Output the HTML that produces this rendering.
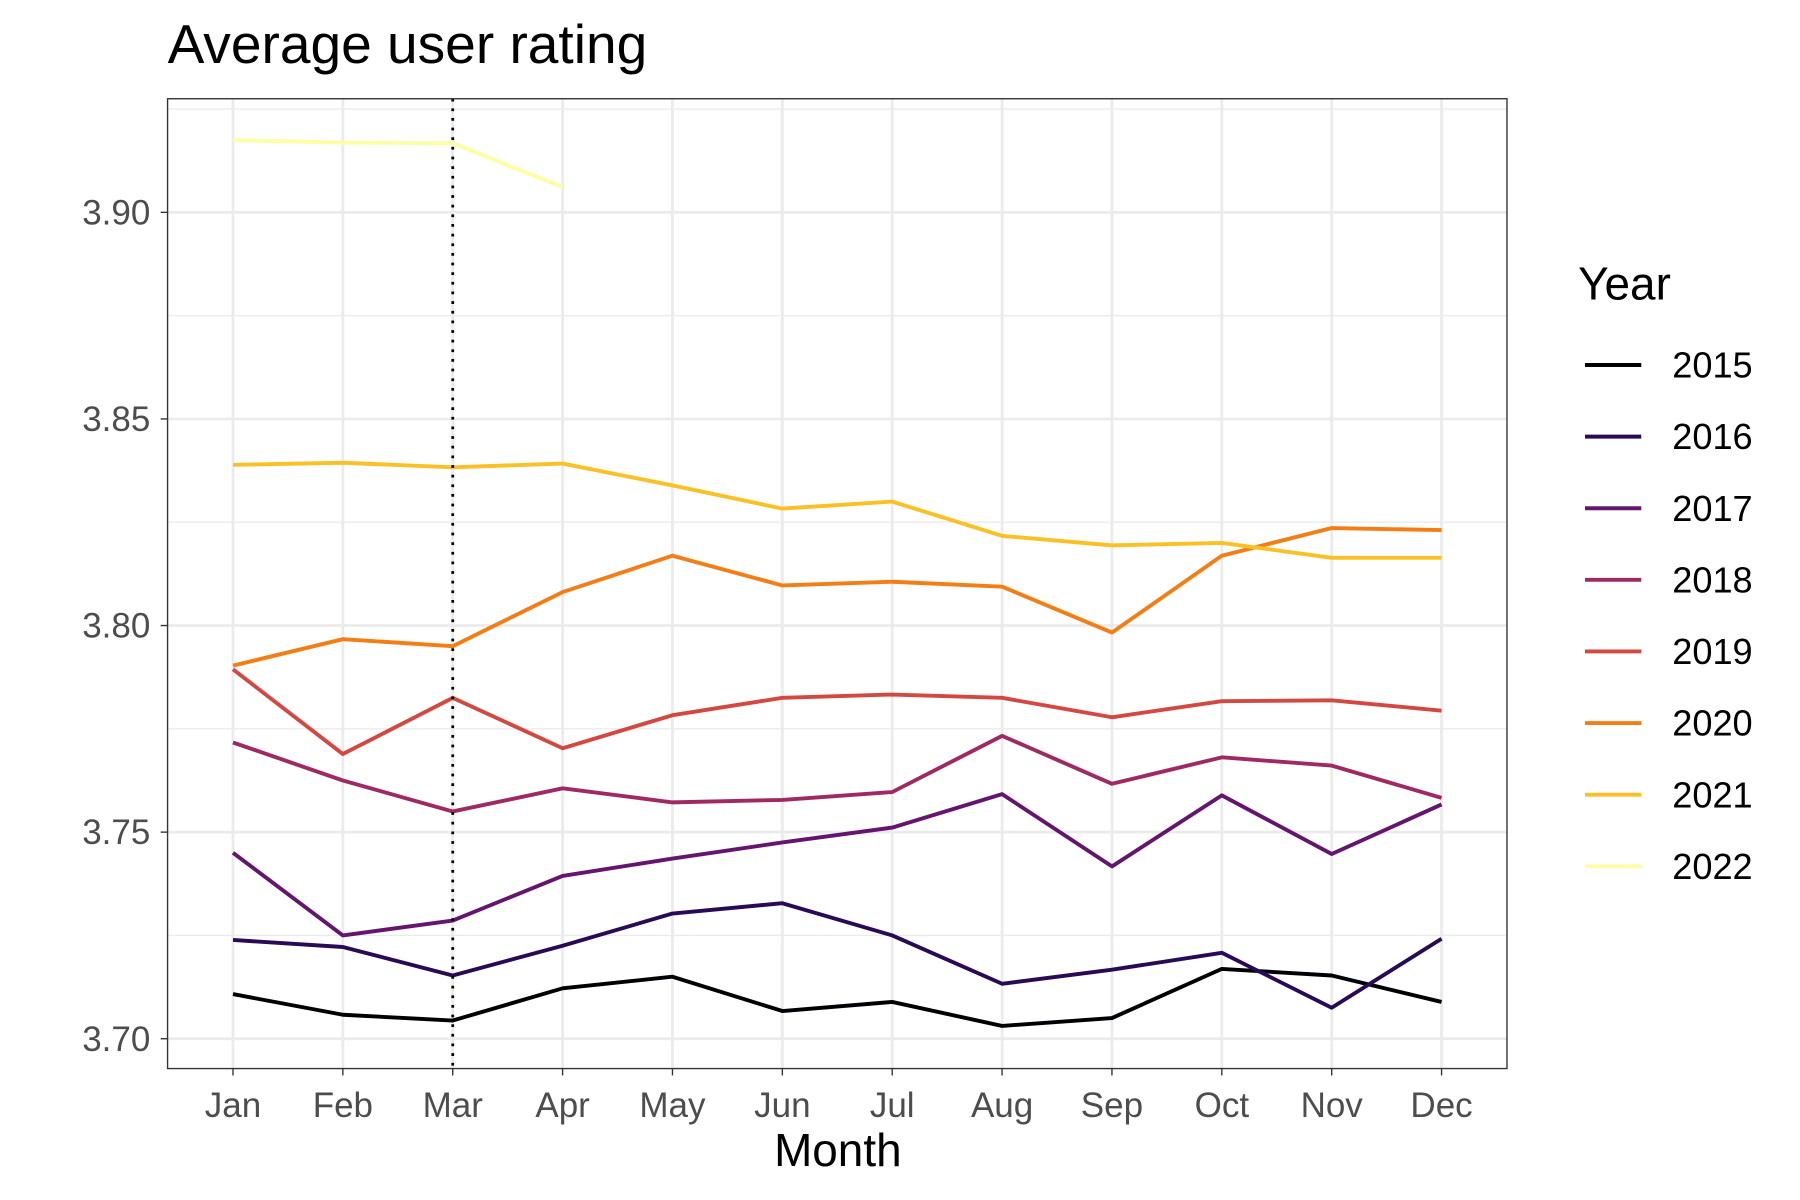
<!DOCTYPE html>
<html><head><meta charset="utf-8"><style>html,body{margin:0;padding:0;background:#fff}svg{display:block}</style></head>
<body>
<svg id="chart" width="1800" height="1200" viewBox="0 0 1568.3 1045.5" xmlns="http://www.w3.org/2000/svg" font-family="Liberation Sans, Arial, sans-serif">
<rect width="1569" height="1046" fill="#fff"/>
<text x="146" y="55" font-size="48" fill="#000">Average user rating</text>
<g id="grid"></g>
<g id="lines"></g>
<rect x="146" y="86" width="1167" height="845" fill="none" stroke="#333" stroke-width="1.2"/>
<g id="axes"></g>
<text x="730" y="1016" font-size="40" text-anchor="middle" fill="#000">Month</text>
<g id="legend"></g>
</svg>
<script>
const months = ["Jan","Feb","Mar","Apr","May","Jun","Jul","Aug","Sep","Oct","Nov","Dec"];
const years = ["2015","2016","2017","2018","2019","2020","2021","2022"];
const colors = ["#000004","#280B54","#65156E","#9F2A63","#D44842","#F57D15","#FAC127","#FCFFA4"];
const yTicks = [3.70,3.75,3.80,3.85,3.90];
const yMinor = [3.725,3.775,3.825,3.875,3.925];
const s2015 = [3.7108,3.7058,3.7044,3.7122,3.715,3.7067,3.7089,3.7031,3.705,3.7169,3.7153,3.7089];
const s2016 = [3.7239,3.7222,3.7153,3.7225,3.7303,3.7328,3.725,3.7133,3.7167,3.7208,3.7075,3.7242];
const s2017 = [3.745,3.725,3.7286,3.7394,3.7436,3.7475,3.7511,3.7592,3.7417,3.7589,3.7447,3.7567];
const s2018 = [3.7717,3.7625,3.755,3.7606,3.7572,3.7578,3.7597,3.7733,3.7617,3.7681,3.7661,3.7583];
const s2019 = [3.7894,3.7689,3.7825,3.7703,3.7783,3.7825,3.7833,3.7825,3.7778,3.7817,3.7819,3.7794];
const s2020 = [3.7903,3.7967,3.795,3.8081,3.8169,3.8097,3.8106,3.8094,3.7983,3.8169,3.8236,3.8231];
const s2021 = [3.8389,3.8394,3.8383,3.8392,3.8339,3.8283,3.83,3.8217,3.8194,3.82,3.8164,3.8164];
const s2022 = [3.9175,3.9169,3.9167,3.9061];
const series = [s2015,s2016,s2017,s2018,s2019,s2020,s2021,s2022];
const markerMonth = "Mar";

const NS="http://www.w3.org/2000/svg";
const x = i => 203 + i*(1256-203)/11;
const y = v => 905 - (v-3.70)*3600;
function mk(tag, attrs, parent){const e=document.createElementNS(NS,tag);for(const k in attrs)e.setAttribute(k,attrs[k]);parent.appendChild(e);return e;}
const grid=document.getElementById('grid'), lines=document.getElementById('lines'), axes=document.getElementById('axes'), legend=document.getElementById('legend');

yMinor.forEach(v=>{const yy=y(v); if(yy<86||yy>931) return;
 const l=mk('line',{x1:146,x2:1313,y1:yy,y2:yy,stroke:'#ebebeb','stroke-width':1.2},grid);
 
 });
yTicks.forEach(v=>{const yy=y(v);
 const l=mk('line',{x1:146,x2:1313,y1:yy,y2:yy,stroke:'#ebebeb','stroke-width':2.4},grid);
 
 
 const t=mk('line',{x1:140,x2:146,y1:yy,y2:yy,stroke:'#333','stroke-width':1.2},axes);
 
 
 const tx=mk('text',{x:131,y:yy+10.5,'font-size':30.5,'text-anchor':'end',fill:'#4d4d4d'},axes);
 tx.textContent=v.toFixed(2);
 
 });
months.forEach((m,i)=>{const xx=x(i);
 const l=mk('line',{x1:xx,x2:xx,y1:86,y2:931,stroke:'#ebebeb','stroke-width':2.4},grid);
 
 
 const t=mk('line',{x1:xx,x2:xx,y1:931,y2:937,stroke:'#333','stroke-width':1.2},axes);
 
 
 const tx=mk('text',{x:xx,y:973,'font-size':30.5,'text-anchor':'middle',fill:'#4d4d4d'},axes);
 tx.textContent=m;
 
 });

series.forEach((s,k)=>{
 const p=mk('polyline',{points:s.map((v,i)=>x(i)+','+y(v)).join(' '),fill:'none',stroke:colors[k],'stroke-width':3.4,'stroke-linejoin':'round'},lines);
 
 });

const mx=x(months.indexOf(markerMonth));
const d=mk('line',{x1:mx,x2:mx,y1:86,y2:931,stroke:'#000','stroke-width':2.4,'stroke-dasharray':'2.4 6'},lines);



const lt=mk('text',{x:1375,y:261,'font-size':40,fill:'#000'},legend);
lt.textContent='Year';


years.forEach((yr,k)=>{const yy=318+62.4*k;
 const g=mk('g',{},legend);
 
 
 mk('line',{x1:1381,x2:1430,y1:yy,y2:yy,stroke:colors[k],'stroke-width':3.4},g);
 const t=mk('text',{x:1457,y:yy+11,'font-size':31.5,fill:'#000'},g);
 t.textContent=yr;});
</script>
</body></html>
